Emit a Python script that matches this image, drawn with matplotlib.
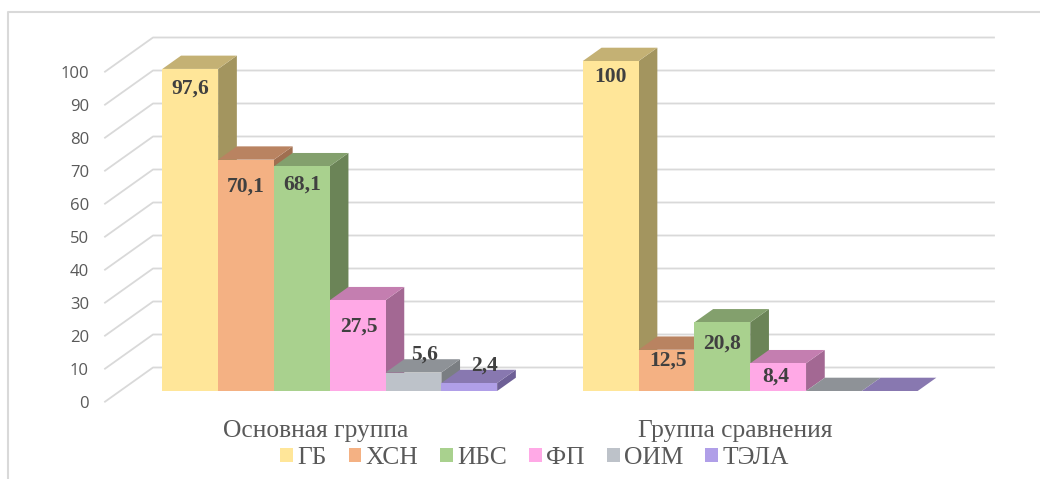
import matplotlib
matplotlib.use("Agg")
import matplotlib.pyplot as plt
from matplotlib.patches import Patch, Polygon

# ---------- Data ----------
groups = ["Основная группа", "Группа сравнения"]
series = ["ГБ", "ХСН", "ИБС", "ФП", "ОИМ", "ТЭЛА"]
main_group = [97.6, 70.1, 68.1, 27.5, 5.6, 2.4]
compare_group = [100, 12.5, 20.8, 8.4, 0, 0]
y_ticks = [0, 10, 20, 30, 40, 50, 60, 70, 80, 90, 100]

# ---------- Styles ----------
front = ["#FFE699", "#F4B183", "#A9D18E", "#FFA9E6", "#BDC2C9", "#B09FE8"]
top = ["#C4B174", "#B98361", "#83A06D", "#C47EB0", "#8E9297", "#8878B0"]
side = ["#A3955F", "#A06F50", "#6B8457", "#A36893", "#7A7E82", "#6E6096"]
# label offsets from the bar top centre, in pixels (x, y up)
main_offsets = [(0, -20), (0, -26.5), (0, -18.5), (1, -26), (11, 18), (15, 17.5)]
compare_offsets = [(0, -16), (1, -10.5), (0, -21), (-2, -13), (0, 0), (0, 0)]

W, H = 1040, 479
PX_Y = 3.3  # pixels per value unit
PX_X = 420.5  # pixels per group
WALL_DX, WALL_DY = 48 / PX_X, 34.2 / PX_Y
BAR_DX, BAR_DY = 18.7 / PX_X, 13.3 / PX_Y
BAR_W = 55.8 / PX_X
BASE = 10.7 / PX_Y
SHIFT = 14.5 / PX_X
GRID = "#D9D9D9"

plt.rcParams["font.family"] = ["Liberation Serif", "DejaVu Serif"]

fig = plt.figure(figsize=(W / 100, H / 100), dpi=100)
ax = fig.add_axes([105 / W, (H - 401.7) / H, (946 - 105) / W, 330 / H])
ax.set_xlim(-0.5, 1.5)
ax.set_ylim(0, 100)
ax.patch.set_visible(False)
for s in ax.spines.values():
    s.set_visible(False)

# outer frame of the chart
fig.add_artist(plt.Line2D([8 / W, 8 / W, 1], [0, (H - 12) / H, (H - 12) / H], color=GRID, lw=1.5))

# walls: slanted part on the left plus the long line at the back
for v in y_ticks:
    ax.plot([-0.5, -0.5 + WALL_DX, 1.5 + WALL_DX], [v, v + WALL_DY, v + WALL_DY],
            color=GRID, lw=1.3, clip_on=False, zorder=1)

# bars, left to right so each front hides the side of the previous one
for g, values in enumerate([main_group, compare_group]):
    offsets = [main_offsets, compare_offsets][g]
    for i, v in enumerate(values):
        x0 = g + SHIFT + (i - 3) * BAR_W
        x1 = x0 + BAR_W
        y0, y1 = BASE, BASE + v
        if v > 0:
            ax.add_patch(Polygon([(x1, y0), (x1 + BAR_DX, y0 + BAR_DY), (x1 + BAR_DX, y1 + BAR_DY), (x1, y1)],
                                 color=side[i], lw=0, clip_on=False, zorder=2))
        ax.add_patch(Polygon([(x0, y1), (x1, y1), (x1 + BAR_DX, y1 + BAR_DY), (x0 + BAR_DX, y1 + BAR_DY)],
                             color=top[i], lw=0, clip_on=False, zorder=2))
        if v > 0:
            ax.bar(x0, v, BAR_W, bottom=BASE, align="edge", color=front[i], lw=0, clip_on=False, zorder=2)
            ax.annotate(f"{v:g}".replace(".", ","), (x0 + BAR_W / 2, y1),
                        xytext=(offsets[i][0] * 0.72, offsets[i][1] * 0.72), textcoords="offset points",
                        ha="center", va="center", fontsize=15.5, fontweight="bold", color="#404040", zorder=5,
                        annotation_clip=False)

ax.set_yticks(y_ticks)
ax.set_yticklabels([str(v) for v in y_ticks], fontfamily="Open Sans", fontsize=12, color="#595959")
ax.set_xticks(range(len(groups)))
ax.set_xticklabels(groups, fontsize=18.4, color="#595959")
ax.tick_params(axis="both", length=0)
ax.tick_params(axis="y", pad=11.5)
ax.tick_params(axis="x", pad=13)

handles = [Patch(color=c, lw=0) for c in front]
fig.legend(handles, series, loc="center", bbox_to_anchor=(534.5 / W, (H - 458) / H), ncol=6, frameon=False,
           fontsize=18.4, labelcolor="#595959", handlelength=0.5, handleheight=0.5, handletextpad=0.17,
           columnspacing=0.86, borderpad=0)

fig.savefig("out.png", dpi=100)
